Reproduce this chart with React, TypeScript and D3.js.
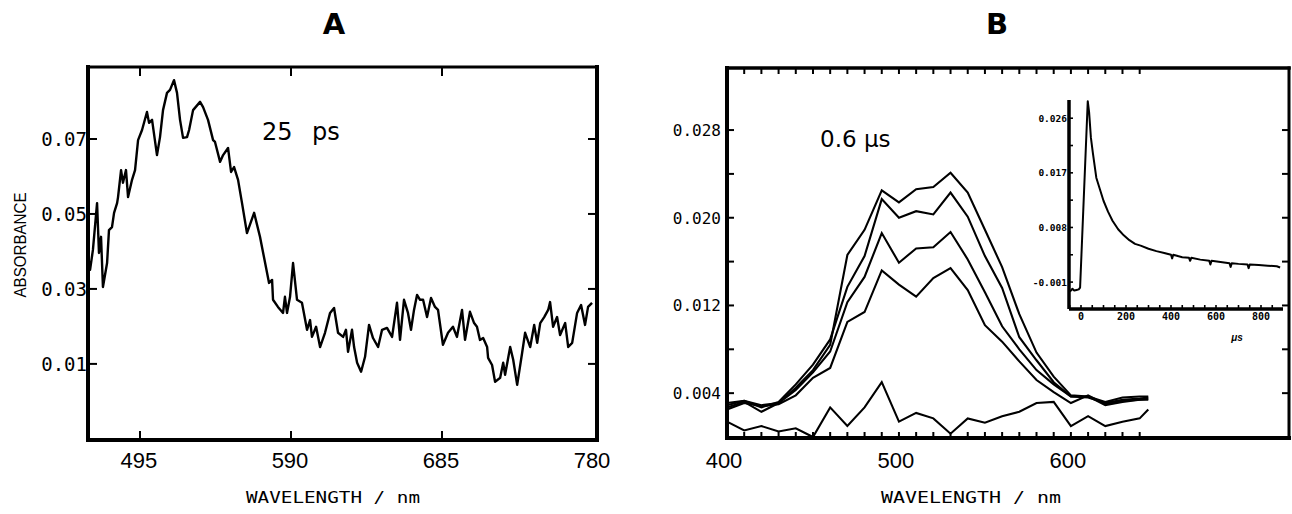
import React from "react";
import * as d3 from "d3";

// ---------- Panel A : 25 ps transient spectrum ----------
const spectrumA: [number, number][] = [
  [462.5, 0.0380], [463.6, 0.0351], [465.4, 0.0404], [468.0, 0.0529], [469.2, 0.0396], [470.5, 0.0439],
  [471.7, 0.0305], [474.3, 0.0369], [475.5, 0.0457], [477.4, 0.0465], [478.7, 0.0503], [480.6, 0.0529],
  [481.2, 0.0545], [483.1, 0.0617], [484.3, 0.0583], [486.2, 0.0617], [487.5, 0.0545], [490.0, 0.0591],
  [491.9, 0.0617], [493.8, 0.0697], [496.3, 0.0724], [499.4, 0.0772], [500.7, 0.0743], [502.6, 0.0751],
  [505.7, 0.0657], [507.6, 0.0705], [509.5, 0.0777], [512.0, 0.0823], [513.9, 0.0831], [516.4, 0.0857],
  [518.3, 0.0823], [520.2, 0.0751], [522.1, 0.0703], [524.6, 0.0705], [525.9, 0.0724], [528.4, 0.0777],
  [532.8, 0.0799], [534.7, 0.0785], [537.8, 0.0751], [541.0, 0.0697], [542.2, 0.0692], [545.4, 0.0639],
  [547.3, 0.0657], [550.4, 0.0676], [552.3, 0.0612], [554.2, 0.0625], [556.7, 0.0591], [559.2, 0.0529],
  [562.3, 0.0449], [566.8, 0.0503], [570.5, 0.0439], [573.0, 0.0385], [576.2, 0.0316], [578.1, 0.0324],
  [578.7, 0.0271], [581.8, 0.0252], [585.0, 0.0236], [586.2, 0.0279], [587.5, 0.0236], [589.4, 0.0279],
  [591.3, 0.0369], [593.8, 0.0271], [596.9, 0.0263], [600.1, 0.0191], [602.0, 0.0217], [603.2, 0.0172],
  [605.8, 0.0199], [608.3, 0.0145], [611.4, 0.0183], [614.6, 0.0236], [617.1, 0.0249], [619.6, 0.0183],
  [622.8, 0.0172], [624.6, 0.0191], [625.9, 0.0132], [628.4, 0.0191], [629.7, 0.0145], [631.6, 0.0103],
  [634.1, 0.0079], [636.6, 0.0119], [639.1, 0.0204], [641.6, 0.0169], [644.8, 0.0145], [647.3, 0.0191],
  [650.4, 0.0196], [653.6, 0.0172], [656.7, 0.0263], [658.6, 0.0164], [661.1, 0.0271], [663.6, 0.0236],
  [665.5, 0.0191], [667.4, 0.0244], [669.3, 0.0284], [671.2, 0.0271], [673.1, 0.0271], [675.6, 0.0225],
  [678.1, 0.0276], [680.6, 0.0252], [682.5, 0.0244], [685.6, 0.0151], [688.8, 0.0183], [691.9, 0.0199],
  [694.4, 0.0172], [697.6, 0.0244], [699.5, 0.0164], [702.6, 0.0239], [705.2, 0.0209], [707.0, 0.0199],
  [708.9, 0.0164], [710.9, 0.0169], [713.4, 0.0145], [714.0, 0.0116], [716.5, 0.0097], [718.4, 0.0052],
  [721.6, 0.0063], [723.5, 0.0103], [724.7, 0.0071], [727.9, 0.0145], [729.8, 0.0111], [732.3, 0.0044],
  [735.4, 0.0129], [737.3, 0.0183], [740.5, 0.0145], [743.0, 0.0204], [744.9, 0.0156], [746.8, 0.0209],
  [749.3, 0.0225], [751.8, 0.0244], [753.0, 0.0265], [754.9, 0.0199], [757.4, 0.0225], [759.3, 0.0177],
  [762.5, 0.0209], [764.4, 0.0145], [766.9, 0.0156], [770.0, 0.0236], [772.5, 0.0257], [775.0, 0.0204],
  [776.9, 0.0252], [779.4, 0.0263],
];
const xTicksA = [495, 590, 685, 780];
const yTicksA = [0.01, 0.03, 0.05, 0.07];

// ---------- Panel B : 0.6 us spectra ----------
const wavelengthsB = [400, 410, 420, 430, 440, 450, 460, 470, 480, 490, 500, 510, 520, 530, 540, 550, 560, 570, 580, 590, 600, 610, 620, 630, 640, 645];
const seriesB1 = [0.0029, 0.0033, 0.0029, 0.0031, 0.0045, 0.0061, 0.0084, 0.0166, 0.0189, 0.0225, 0.0214, 0.0226, 0.0228, 0.0241, 0.0223, 0.0189, 0.0155, 0.0112, 0.0077, 0.0055, 0.0038, 0.0037, 0.0032, 0.0036, 0.0037, 0.0037];
const seriesB2 = [0.0031, 0.0033, 0.0027, 0.0032, 0.0048, 0.0066, 0.0089, 0.0137, 0.0165, 0.0217, 0.0200, 0.0206, 0.0203, 0.0223, 0.0201, 0.0165, 0.0136, 0.0091, 0.0070, 0.0050, 0.0037, 0.0036, 0.0031, 0.0034, 0.0035, 0.0036];
const seriesB3 = [0.0027, 0.0032, 0.0023, 0.0031, 0.0043, 0.0059, 0.0078, 0.0123, 0.0146, 0.0186, 0.0159, 0.0172, 0.0173, 0.0187, 0.0162, 0.0132, 0.0101, 0.0080, 0.0061, 0.0048, 0.0037, 0.0037, 0.0029, 0.0032, 0.0034, 0.0035];
const seriesB4 = [0.0025, 0.0031, 0.0028, 0.0030, 0.0038, 0.0054, 0.0063, 0.0105, 0.0114, 0.0152, 0.0139, 0.0128, 0.0145, 0.0154, 0.0134, 0.0102, 0.0087, 0.0069, 0.0052, 0.0041, 0.0031, 0.0038, 0.0030, 0.0033, 0.0034, 0.0034];
const seriesB5 = [0.0014, 0.0006, 0.0010, 0.0005, 0.0008, 0.0000, 0.0027, 0.0010, 0.0027, 0.0050, 0.0014, 0.0022, 0.0017, 0.0003, 0.0017, 0.0013, 0.0019, 0.0023, 0.0031, 0.0032, 0.0010, 0.0019, 0.0010, 0.0014, 0.0017, 0.0025];
const seriesB = [seriesB1, seriesB2, seriesB3, seriesB4, seriesB5];
const xTickLabelsB = [400, 500, 600];
const xMinorTicksB = [410, 420, 430, 440, 450, 460, 470, 480, 490, 500, 510, 520, 530, 540, 550, 560, 570, 580, 590, 600, 610, 620, 630, 640];
const yTickLabelsB = [0.004, 0.012, 0.020, 0.028];
const yMinorTicksB = [0.004, 0.008, 0.012, 0.016, 0.020, 0.024, 0.028];

// ---------- Inset : kinetic trace ----------
const kineticTrace: [number, number][] = [
  [-55, -0.0026], [-45, -0.0024], [-38, -0.0021], [-30, -0.0024], [-20, -0.0023], [-10, -0.0022], [-4, -0.0019],
  [30, 0.0288], [36, 0.0270], [44, 0.0228], [53, 0.0202], [68, 0.0162], [84, 0.0143], [100, 0.0124],
  [120, 0.0106], [140, 0.0091], [165, 0.0077], [190, 0.0067], [215, 0.0059], [240, 0.0053], [265, 0.0050],
  [300, 0.0045], [335, 0.0041], [370, 0.0038], [400, 0.0035], [405, 0.0029], [410, 0.0035], [450, 0.0031],
  [480, 0.0030], [485, 0.0025], [490, 0.0030], [530, 0.0027], [570, 0.0025], [575, 0.0019], [580, 0.0025],
  [620, 0.0023], [660, 0.0021], [665, 0.0015], [670, 0.0021], [700, 0.0020], [740, 0.0019], [745, 0.0013],
  [750, 0.0019], [790, 0.0018], [830, 0.0017], [870, 0.0016], [885, 0.0014],
];
const insetXTicks = [0, 200, 400, 600, 800];
const insetXMinor = [-50, 0, 50, 100, 150, 200, 250, 300, 350, 400, 450, 500, 550, 600, 650, 700, 750, 800, 850];
const insetYTicks = [-0.001, 0.008, 0.017, 0.026];
const insetYMinor = [0.0035, 0.0125, 0.0215];

const MONO = "'DejaVu Sans Mono', 'Liberation Mono', monospace";
const SANS = "'Liberation Sans', 'DejaVu Sans', sans-serif";

export default function App() {
  // Panel A scales
  const xA = d3.scaleLinear().domain([462.3, 780]).range([88, 593]);
  const yA = d3.scaleLinear().domain([-0.0103, 0.0892]).range([440, 67]);
  const lineA = d3.line<[number, number]>().x((d) => xA(d[0])).y((d) => yA(d[1]));
  const aL = 88, aR = 597, aT = 67, aB = 440;

  // Panel B scales
  const xB = d3.scaleLinear().domain([400, 728]).range([727, 1291]);
  const yB = d3.scaleLinear().domain([0, 0.03366]).range([437, 68]);
  const lineB = d3.line<number>().x((_, i) => xB(wavelengthsB[i])).y((d) => yB(d));
  const bL = 727, bR = 1289, bT = 68, bB = 438;

  // Inset scales
  const xI = d3.scaleLinear().domain([0, 800]).range([1081, 1261]);
  const yI = d3.scaleLinear().domain([-0.0056, 0.029]).range([310, 100]);
  const lineI = d3.line<[number, number]>().x((d) => xI(d[0])).y((d) => yI(d[1]));
  const iL = 1069, iR = 1283, iT = 100, iB = 309;

  return (
    <svg width={1292} height={514} style={{ position: "absolute", left: 0, top: 0, background: "#fff" }}>
      <rect x={0} y={0} width={1292} height={514} fill="#fff" />
      {/* Titles */}
      <text x={334} y={34} textAnchor="middle" fontFamily="'DejaVu Sans', sans-serif" fontWeight="bold" fontSize={29}>A</text>
      <text x={997} y={34} textAnchor="middle" fontFamily="'DejaVu Sans', sans-serif" fontWeight="bold" fontSize={29}>B</text>

      {/* ---------- Panel A ---------- */}
      <g stroke="#000" fill="none" strokeLinecap="square">
        <line x1={aL} y1={aT} x2={aR} y2={aT} strokeWidth={3} />
        <line x1={aL} y1={aT} x2={aL} y2={aB} strokeWidth={4} />
        <line x1={aL} y1={aB} x2={aR} y2={aB} strokeWidth={4} />
        <line x1={aR} y1={aT} x2={aR} y2={aB} strokeWidth={4} />
      </g>
      <g stroke="#000" strokeWidth={2}>
        {yTicksA.map((t) => (
          <g key={"ya" + t}>
            <line x1={aL} x2={aL + 9} y1={yA(t)} y2={yA(t)} />
            <line x1={aR} x2={aR - 9} y1={yA(t)} y2={yA(t)} />
          </g>
        ))}
        {xTicksA.slice(0, 3).map((t) => (
          <g key={"xa" + t}>
            <line x1={xA(t)} x2={xA(t)} y1={aB} y2={aB - 9} />
            <line x1={xA(t)} x2={xA(t)} y1={aT} y2={aT + 9} />
          </g>
        ))}
      </g>
      <path d={lineA(spectrumA) || ""} fill="none" stroke="#000" strokeWidth={2.4} strokeLinejoin="round" />
      {yTicksA.map((t) => (
        <text key={"yal" + t} x={87} y={yA(t)} dy="0.36em" textAnchor="end" fontFamily={MONO} fontSize={19}>
          {t.toFixed(2)}
        </text>
      ))}
      {xTicksA.map((t) => (
        <text key={"xal" + t} x={xA(t) - 1} y={468} textAnchor="middle" fontFamily={SANS} fontSize={22}>
          {t}
        </text>
      ))}
      <text x={262} y={140} fontFamily="'DejaVu Sans', sans-serif" fontSize={24}>25</text>
      <text x={312} y={140} fontFamily="'DejaVu Sans', sans-serif" fontSize={24}>ps</text>
      <text transform="translate(26,245) rotate(-90)" textAnchor="middle" fontFamily={SANS} fontSize={17} textLength={105} lengthAdjust="spacingAndGlyphs">ABSORBANCE</text>
      <text x={333} y={503} textAnchor="middle" fontFamily={MONO} fontSize={15} textLength={174} lengthAdjust="spacingAndGlyphs">WAVELENGTH / nm</text>

      {/* ---------- Panel B ---------- */}
      <g stroke="#000" fill="none" strokeLinecap="square">
        <line x1={bL} y1={bT} x2={bR} y2={bT} strokeWidth={3.5} />
        <line x1={bL} y1={bT} x2={bL} y2={bB} strokeWidth={4} />
        <line x1={bL} y1={bB} x2={bR} y2={bB} strokeWidth={4} />
        <line x1={bR} y1={bT} x2={bR} y2={bB} strokeWidth={3} />
      </g>
      <g stroke="#000" strokeWidth={2}>
        {yMinorTicksB.map((t) => (
          <g key={"yb" + t}>
            <line x1={bL} x2={bL + 7} y1={yB(t)} y2={yB(t)} />
            <line x1={bR} x2={bR - 7} y1={yB(t)} y2={yB(t)} />
          </g>
        ))}
        {xMinorTicksB.map((t) => (
          <g key={"xb" + t}>
            <line x1={xB(t)} x2={xB(t)} y1={bB} y2={bB - 6} />
            <line x1={xB(t)} x2={xB(t)} y1={bT} y2={bT + 6} />
          </g>
        ))}
      </g>
      {seriesB.map((s, i) => (
        <path key={"sb" + i} d={lineB(s) || ""} fill="none" stroke="#000" strokeWidth={2.1} strokeLinejoin="miter" />
      ))}
      {yTickLabelsB.map((t) => (
        <text key={"ybl" + t} x={721} y={yB(t)} dy="0.36em" textAnchor="end" fontFamily={MONO} fontSize={16}>
          {t.toFixed(3)}
        </text>
      ))}
      {xTickLabelsB.map((t) => (
        <text key={"xbl" + t} x={xB(t) - 3} y={468} textAnchor="middle" fontFamily={SANS} fontSize={22}>
          {t}
        </text>
      ))}
      <text x={820} y={147} fontFamily="'DejaVu Sans', sans-serif" fontSize={23}>0.6 μs</text>
      <text x={971} y={503} textAnchor="middle" fontFamily={MONO} fontSize={15} textLength={180} lengthAdjust="spacingAndGlyphs">WAVELENGTH / nm</text>

      {/* ---------- Inset ---------- */}
      <g stroke="#000" fill="none">
        <line x1={iL} y1={iT} x2={iL} y2={iB} strokeWidth={3.5} />
        <line x1={iL} y1={iB} x2={iR} y2={iB} strokeWidth={3.5} />
      </g>
      <g stroke="#000" strokeWidth={1.6}>
        {insetYTicks.concat(insetYMinor).map((t) => (
          <line key={"yi" + t} x1={iL} x2={iL + 4} y1={yI(t)} y2={yI(t)} />
        ))}
        {insetXMinor.map((t) => (
          <line key={"xi" + t} x1={xI(t)} x2={xI(t)} y1={iB} y2={iB - 4} />
        ))}
      </g>
      <path d={lineI(kineticTrace) || ""} fill="none" stroke="#000" strokeWidth={2} strokeLinejoin="round" />
      {insetYTicks.map((t) => (
        <text key={"yil" + t} x={iL - 2} y={yI(t)} dy="0.36em" textAnchor="end" fontFamily={MONO} fontWeight="bold" fontSize={9.5}>
          {t.toFixed(3)}
        </text>
      ))}
      {insetXTicks.map((t) => (
        <text key={"xil" + t} x={xI(t)} y={320} textAnchor="middle" fontFamily={MONO} fontWeight="bold" fontSize={10}>
          {t}
        </text>
      ))}
      <text x={1237} y={341} textAnchor="middle" fontFamily={SANS} fontStyle="italic" fontWeight="bold" fontSize={10}>μs</text>
    </svg>
  );
}
